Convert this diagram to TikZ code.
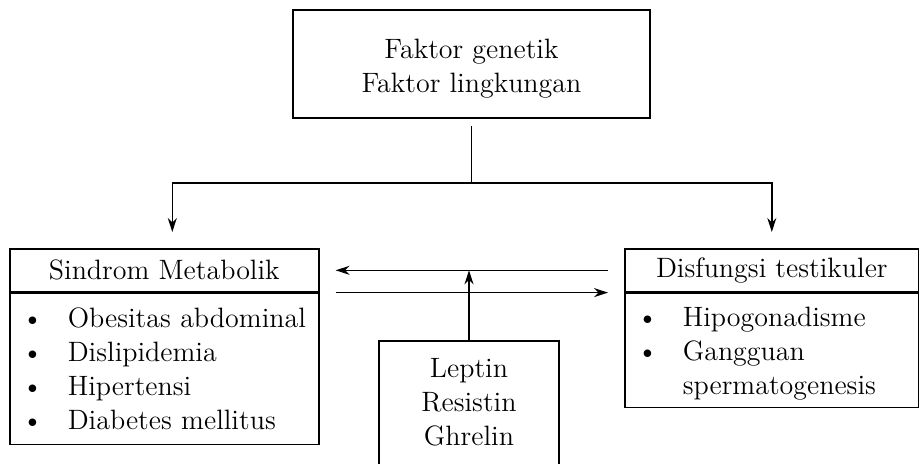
\documentclass[tikz,border=0pt]{standalone}
\usepackage{tikz}
\usetikzlibrary{arrows.meta,positioning}
\tikzset{
	box/.style={draw, line width=0.8pt, font=\fontsize{14}{17}\selectfont, align=center, inner sep=0pt},
	list/.style={box, align=left, inner xsep=6pt},
}
\newcommand{\itm}[1]{\makebox[23pt][l]{\textbullet}#1}
\begin{document}
\begin{tikzpicture}[x=0.5pt, y=-0.5pt, line width=0.8pt, >={Stealth[length=7pt,width=4.5pt]}]
	\useasboundingbox (0,0) rectangle (919,463);
	\node [box, minimum width=178.5pt, minimum height=54pt] (A) at (471.5,64) {\rule{0pt}{14.5pt}Faktor genetik\\Faktor lingkungan};
	\node [box, minimum width=154.5pt, minimum height=21.5pt, anchor=north west] (B) at (9,248) {Sindrom Metabolik};
	\node [list, text width=142.5pt, minimum height=75.5pt, anchor=north west] (C) at (B.south west) {\itm{Obesitas abdominal}\\\itm{Dislipidemia}\\\itm{Hipertensi}\\\itm{Diabetes mellitus}};
	\node [box, minimum width=147pt, minimum height=21.5pt, anchor=north west] (D) at (624,248) {Disfungsi testikuler};
	\node [list, text width=135pt, minimum height=57pt, anchor=north west] (E) at (D.south west) {\rule{0pt}{13pt}\itm{Hipogonadisme}\\\itm{Gangguan}\\\hspace*{23pt}spermatogenesis};
	\node [box, draw=none, minimum width=89pt, minimum height=60pt] (F) at (469,402) {Leptin\\Resistin\\Ghrelin};
	\coordinate (S) at (A.south |- 0,183);
	\draw [shorten <=3.5pt] (A) -- (S);
	\draw [->, shorten >=8pt] (S) -| ([xshift=4pt]B.north);
	\draw [->, shorten >=8pt] (S) -| (D.north);
	\path [->] ([xshift=-8pt]D.west) edge ([xshift=8pt]B.east);
	\path [->] ([xshift=8pt]B.south east) edge ([xshift=-8pt]D.south west);
	\draw [->] (F.north) -- (F.north |- B.east);
	\draw ([yshift=-10pt]F.south west) |- (F.north) -| ([yshift=-10pt]F.south east);
\end{tikzpicture}
\end{document}
